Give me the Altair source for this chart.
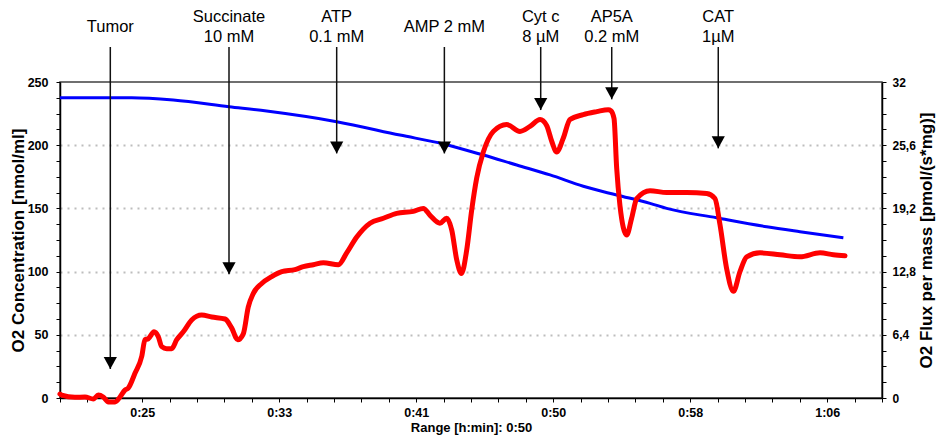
import altair as alt
import pandas as pd

# ---------------- data ----------------
red_t = [20.0, 20.1, 20.91, 21.52, 22.03, 22.33, 22.63, 22.94, 23.35, 23.65, 23.95, 24.15,
         24.56, 24.97, 25.17, 25.37, 25.72, 25.98, 26.19, 26.49, 26.79, 27.10, 27.50, 28.01,
         28.62, 29.23, 30.04, 30.44, 30.81, 31.15, 31.45, 31.76, 32.27, 32.88, 33.49, 34.29,
         34.80, 35.41, 36.02, 36.93, 37.44, 38.05, 38.86, 39.67, 40.48, 41.49, 42.10, 42.51,
         43.11, 43.52, 43.83, 44.13, 44.42, 44.74, 45.04, 45.35, 45.75, 46.36, 47.17, 47.98,
         48.59, 49.20, 49.60, 49.91, 50.21, 50.61, 51.02, 51.83, 52.65, 53.35, 53.51, 53.70,
         53.86, 54.06, 54.47, 54.77, 55.08, 55.89, 56.90, 58.12, 59.34, 59.84, 60.15, 60.55,
         60.96, 61.36, 61.77, 62.58, 63.80, 65.01, 66.23, 67.04, 67.75]
red_flux = [0.4, 0.3, 0.07, 0.1, -0.1, 0.3, 0.1, -0.4, -0.4, 0.1, 0.8, 1.0,
            2.5, 4.2, 5.9, 6.0, 6.7, 6.2, 5.2, 5.0, 5.0, 5.9, 6.7, 7.9,
            8.4, 8.2, 8.0, 7.1, 5.9, 6.5, 9.2, 10.6, 11.6, 12.3, 12.8, 13.0,
            13.3, 13.5, 13.7, 13.5, 14.7, 16.3, 17.7, 18.2, 18.7, 18.9, 19.2, 18.5,
            17.7, 18.2, 17.0, 14.0, 12.6, 15.0, 19.0, 22.3, 24.9, 27.0, 27.7, 27.0,
            27.5, 28.2, 27.6, 26.0, 24.9, 26.3, 28.2, 28.7, 29.0, 29.2, 29.1, 28.3,
            23.3, 19.5, 16.5, 18.2, 20.2, 21.0, 20.8, 20.8, 20.7, 20.2, 17.5, 13.1,
            10.8, 12.8, 14.3, 14.7, 14.5, 14.3, 14.7, 14.5, 14.4]

blue_t = [20.0, 24.36, 26.89, 30.28, 32.57, 36.83, 40.68, 43.31, 45.75, 47.78, 49.81,
          51.83, 53.86, 55.89, 56.90, 59.94, 62.99, 65.01, 67.65]
blue_conc = [237.6, 237.6, 235.8, 230.5, 227.0, 218.6, 208.0, 201.0, 192.2, 184.3, 176.5,
             167.5, 160.6, 154.0, 150.0, 142.6, 135.5, 131.6, 126.8]

ann_labels = ["Tumor", "Succinate\n10 mM", "ATP\n0.1 mM", "AMP 2 mM",
              "Cyt c\n8 \u00b5M", "AP5A\n0.2 mM", "CAT\n1\u00b5M"]
ann_t = [23.06, 30.28, 36.83, 43.38, 49.24, 53.56, 60.04]
ann_tip = [22.9, 97.9, 193.5, 193.5, 227.8, 236.3, 197.5]

x_tick_labels = ["0:25", "0:33", "0:41", "0:50", "0:58", "1:06"]
right_tick_labels = ["0", "6,4", "12,8", "19,2", "25,6", "32"]

# ---------------- styling helpers ----------------
FONT = "Liberation Sans"

x_minor = [round(20 + k * 5 / 3, 4) for k in range(31)]
left_minor = [k * 12.5 for k in range(21)]
right_minor = [round(k * 1.6, 4) for k in range(21)]

x_scale = alt.Scale(domain=[20, 70], nice=False, zero=False)
yl_scale = alt.Scale(domain=[0, 250], nice=False, zero=False)
yr_scale = alt.Scale(domain=[0, 32], nice=False, zero=False)

xarr = "[" + ",".join(f"'{s}'" for s in x_tick_labels) + "]"
x_label_expr = f"round(datum.value*3) % 25 == 0 ? {xarr}[round(datum.value*3/25)-3] : ''"
rarr = "[" + ",".join(f"'{s}'" for s in right_tick_labels) + "]"
r_label_expr = f"round(datum.value/1.6) % 4 == 0 ? {rarr}[round(datum.value/6.4)] : ''"

x_axis = alt.Axis(
    values=x_minor, labelExpr=x_label_expr, title="Range [h:min]: 0:50",
    labelFont=FONT, labelFontSize=12.5, labelFontWeight="bold", labelColor="black",
    labelPadding=4, labelOverlap=False, labelFlush=False,
    tickSize=4, tickColor="black", tickWidth=1,
    domainColor="black", domainWidth=1.5, grid=False,
    titleFont=FONT, titleFontSize=13, titleFontWeight="bold", titleColor="black",
    titleX=411, titleY=29, titleAlign="center", titleBaseline="middle",
)

yl_axis = alt.Axis(
    orient="left", values=left_minor,
    labelExpr="datum.value % 50 == 0 ? format(datum.value, 'd') : ''",
    title="O2 Concentration [nmol/ml]",
    labelFont=FONT, labelFontSize=12.5, labelFontWeight="bold", labelColor="black",
    labelPadding=8, labelOverlap=False, labelFlush=False,
    tickSize=4, tickColor="black", domainColor="black", domainWidth=1.5,
    grid=True, gridColor="#bdbdbd", gridDash=[2, 5], gridWidth=2,
    gridOpacity={"condition": {"test": "datum.value % 50 == 0 && datum.value > 0 && datum.value < 250",
                               "value": 1}, "value": 0},
    titleFont=FONT, titleFontSize=17, titleFontWeight="bold", titleColor="black",
    titleAngle=270, titleX=-42, titleY=158, titleAlign="center", titleBaseline="middle",
)

yr_axis = alt.Axis(
    orient="right", values=right_minor, labelExpr=r_label_expr,
    title="O2 Flux per mass [pmol/(s*mg)]",
    labelFont=FONT, labelFontSize=12, labelFontWeight="bold", labelColor="black",
    labelPadding=6, labelOverlap=False, labelFlush=False,
    tickSize=4, tickColor="black", domainColor="black", domainWidth=1.5, grid=False,
    titleFont=FONT, titleFontSize=17, titleFontWeight="bold", titleColor="black",
    titleAngle=270, titleX=44, titleY=158, titleAlign="center", titleBaseline="middle",
)

blue_df = pd.DataFrame({"t": blue_t, "conc": blue_conc})
red_df = pd.DataFrame({"t": red_t, "flux": red_flux})
ann_df = pd.DataFrame({"t": ann_t, "tip": ann_tip, "label": ann_labels})

X = alt.X("t:Q", scale=x_scale, axis=x_axis)

blue = alt.Chart(blue_df).mark_line(color="#0000ff", strokeWidth=3, interpolate="monotone").encode(
    x=X, y=alt.Y("conc:Q", scale=yl_scale, axis=yl_axis))

red = alt.Chart(red_df).mark_line(color="#ff0000", strokeWidth=5, interpolate="monotone",
                                  strokeCap="round", strokeJoin="round").encode(
    x=X, y=alt.Y("flux:Q", scale=yr_scale, axis=yr_axis))

rules = alt.Chart(ann_df).mark_rule(color="#111111", strokeWidth=1.5).encode(
    x=X, y=alt.Y("tip:Q", scale=yl_scale, axis=None), y2=alt.value(-35))

heads = alt.Chart(ann_df).mark_point(shape="M-0.55,-1L0.55,-1L0,0Z", size=576, filled=True,
                                     color="black", opacity=1, strokeWidth=0).encode(
    x=X, y=alt.Y("tip:Q", scale=yl_scale, axis=None))

text_style = dict(font=FONT, fontSize=16.5, color="black", baseline="middle", align="center")

single = alt.Chart(ann_df).transform_filter(
    "indexof(datum.label, '\\n') < 0"
).mark_text(**text_style).encode(x=X, y=alt.value(-55), text="label:N")

line1 = alt.Chart(ann_df).transform_filter(
    "indexof(datum.label, '\\n') >= 0"
).transform_calculate(
    part="split(datum.label, '\\n')[0]"
).mark_text(**text_style).encode(x=X, y=alt.value(-65), text="part:N")

line2 = alt.Chart(ann_df).transform_filter(
    "indexof(datum.label, '\\n') >= 0"
).transform_calculate(
    part="split(datum.label, '\\n')[1]"
).mark_text(**text_style).encode(x=X, y=alt.value(-45), text="part:N")

chart = alt.layer(blue, red, rules, heads, single, line1, line2).resolve_scale(y="independent").properties(
    width=822, height=316,
    autosize=alt.AutoSizeParams(type="none"),
    padding={"left": 60, "top": 82, "right": 54, "bottom": 38},
    background="white",
).configure_view(stroke="#404040", strokeWidth=1.5)

chart.save("out.html", embed_options={"renderer": "svg", "actions": False})
